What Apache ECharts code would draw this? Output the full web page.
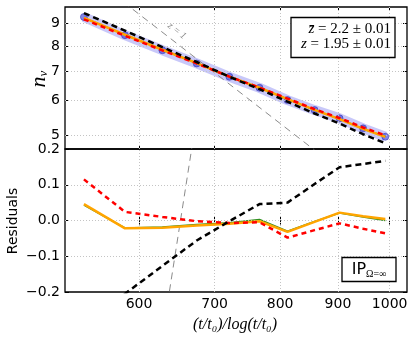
<!DOCTYPE html>
<html><head><meta charset="utf-8">
<script src="https://cdn.jsdelivr.net/npm/echarts@6/dist/echarts.min.js"></script>
<style>html,body{margin:0;padding:0;background:#fff}#c{width:415px;height:338px}</style>
</head><body><div id="c"></div>
<script>
// ---- data ----
const xVals   = [536.3, 583.1, 629.3, 674.9, 721.4, 767.0, 812.1, 858.1, 903.0, 947.3, 991.2];
const nVals   = [9.318, 8.465, 7.823, 7.297, 6.801, 6.419, 6.018, 5.710, 5.467, 5.187, 4.963];
const fitBlack  = [9.51, 8.67, 7.95, 7.353, 6.803, 6.373, 5.968, 5.608, 5.318, 5.029, 4.796];
const fitRed    = [9.203, 8.441, 7.815, 7.299, 6.808, 6.424, 6.066, 5.737, 5.475, 5.210, 4.999];
const fitGreen  = [9.275, 8.486, 7.841, 7.308, 6.807, 6.416, 6.048, 5.713, 5.446, 5.177, 4.963];
const fitOrange = [9.272, 8.487, 7.843, 7.311, 6.810, 6.421, 6.050, 5.714, 5.445, 5.175, 4.959];
const resBlack  = [-0.29, -0.205, -0.127, -0.056, -0.002, 0.046, 0.050, 0.102, 0.149, 0.158, 0.167];
const resRed    = [0.115, 0.024, 0.010, -0.002, -0.007, -0.005, -0.048, -0.027, -0.008, -0.023, -0.036];
const resGreen  = [0.043, -0.021, -0.018, -0.011, -0.006, 0.003, -0.030, -0.003, 0.021, 0.010, 0.000];
const resOrange = [0.046, -0.022, -0.020, -0.014, -0.009, -0.002, -0.032, -0.004, 0.022, 0.012, 0.004];
const zOneTopX = [570, 870];
const zOneTopY = [10.48, 4.50];
const zOneResX = [636, 670];
const zOneResY = [-0.231, 0.227];
const xTicks = [600, 700, 800, 900, 1000];
const nTicks = [5, 6, 7, 8, 9];
const resTicks = [-0.1, 0.0, 0.1];
const boxVals = [' = 2.2 ± 0.01', ' = 1.95 ± 0.01'];

const pairs = (xs, ys) => xs.map((x, i) => [x, ys[i]]);
const chart = echarts.init(document.getElementById('c'));
const GL = 65, GW = 342;
const grids = [
  {left: GL, top: 7, width: GW, height: 142},
  {left: GL, top: 149, width: GW, height: 143}
].map(g => Object.assign(g, {show: true, borderColor: '#000', borderWidth: 1.3, backgroundColor: 'transparent', containLabel: false}));

const gridStyle = {color: '#c4c4c4', width: 1, type: [1, 2]};
const tick = (vals) => ({show: true, inside: true, length: 4, customValues: vals, lineStyle: {color: '#000', width: 1}});
const lbl = {fontFamily: 'DejaVu Sans', fontSize: 14, color: '#000'};
const xBase = {type: 'log', min: 516, max: 1036, axisLine: {show: false}, splitLine: {show: false}};
const xAxis = [
  Object.assign({}, xBase, {gridIndex: 0, position: 'bottom', axisTick: tick(xTicks), axisLabel: {show: false, customValues: xTicks}}),
  Object.assign({}, xBase, {gridIndex: 1, position: 'bottom', axisTick: tick(xTicks),
    axisLabel: Object.assign({show: true, customValues: xTicks, margin: 5, formatter: v => String(Math.round(v))}, lbl)}),
  Object.assign({}, xBase, {gridIndex: 0, position: 'top', axisTick: tick(xTicks), axisLabel: {show: false, customValues: xTicks}}),
  Object.assign({}, xBase, {gridIndex: 1, position: 'top', axisTick: tick(xTicks), axisLabel: {show: false, customValues: xTicks}})
];
const yTopBase = {type: 'log', min: 4.653, max: 9.82, gridIndex: 0, axisLine: {show: false}, splitLine: {show: false}};
const yResBase = {type: 'value', min: -0.2, max: 0.2, interval: 0.1, gridIndex: 1, axisLine: {show: false}, splitLine: {show: false}};
const resFmt = v => (v < -1e-9 ? '\u2212' : '') + Math.abs(v).toFixed(1);
const yAxis = [
  Object.assign({}, yTopBase, {position: 'left', axisTick: tick(nTicks),
    axisLabel: Object.assign({show: true, customValues: nTicks, margin: 5, formatter: v => String(Math.round(v))}, lbl)}),
  Object.assign({}, yResBase, {position: 'left', axisTick: {show: true, inside: true, length: 4, lineStyle: {color: '#000'}},
    axisLabel: Object.assign({show: true, margin: 5, formatter: resFmt, showMinLabel: true, showMaxLabel: true}, lbl)}),
  Object.assign({}, yTopBase, {position: 'right', axisTick: tick(nTicks), axisLabel: {show: false, customValues: nTicks}}),
  Object.assign({}, yResBase, {position: 'right', axisTick: {show: true, inside: true, length: 4, lineStyle: {color: '#000'}}, axisLabel: {show: false}})
];

function line(name, gi, data, color, width, type, z) {
  return {name, type: 'line', xAxisIndex: gi, yAxisIndex: gi, data, showSymbol: false, symbol: 'none',
    lineStyle: {color, width, type, cap: 'butt'}, z, animation: false, clip: true, silent: true};
}
function gridMarks(yKey, yVals) {
  return {silent: true, symbol: ['none', 'none'], label: {show: false}, lineStyle: gridStyle, animation: false,
    emphasis: {disabled: true},
    data: xTicks.map(v => ({xAxis: v})).concat(yVals.map(v => ({[yKey]: v})))};
}
const band = line('band', 0, pairs(xVals, nVals), 'rgba(125,125,240,0.42)', 10, 'solid', 1);
band.markLine = gridMarks('yAxis', nTicks);
const z1r = line('z1r', 1, pairs(zOneResX, zOneResY), '#8a8a8a', 1, [7, 5], 3);
z1r.markLine = gridMarks('yAxis', resTicks);
const series = [
  band,
  {name: 'pts', type: 'scatter', xAxisIndex: 0, yAxisIndex: 0, data: pairs(xVals, nVals), symbolSize: 7,
    itemStyle: {color: 'rgba(60,60,215,0.78)', borderColor: 'rgba(40,40,170,0.8)', borderWidth: 0.8}, z: 2, animation: false, silent: true},
  line('z1', 0, pairs(zOneTopX, zOneTopY), '#8a8a8a', 1, [7, 5], 3),
  line('green', 0, pairs(xVals, fitGreen), '#2f8f1f', 1.5, 'solid', 4),
  line('orange', 0, pairs(xVals, fitOrange), '#ffa500', 2.5, 'solid', 5),
  line('red', 0, pairs(xVals, fitRed), '#ff0000', 2.5, [5, 4], 6),
  line('black', 0, pairs(xVals, fitBlack), '#000', 2.5, [6, 4], 7),
  z1r,
  line('greenr', 1, pairs(xVals, resGreen), '#2f8f1f', 1.5, 'solid', 4),
  line('oranger', 1, pairs(xVals, resOrange), '#ffa500', 2.5, 'solid', 5),
  line('redr', 1, pairs(xVals, resRed), '#ff0000', 2.5, [5, 4], 6),
  line('blackr', 1, pairs(xVals, resBlack), '#000', 2.5, [6, 4], 7)
];

const serif = 'Liberation Serif, DejaVu Serif, serif';
const boxRich = {i: {fontFamily: serif, fontStyle: 'italic', fontSize: 15, fill: '#000'}, r: {fontFamily: serif, fontSize: 15, fill: '#000'}};
const graphic = [
  {type: 'text', x: 39, y: 79, rotation: Math.PI / 2, style: {text: '{n|n}{s|v}', x: 0, y: 0, align: 'center', verticalAlign: 'middle',
    rich: {n: {fontFamily: serif, fontStyle: 'italic', fontSize: 22, fill: '#000'}, s: {fontFamily: serif, fontStyle: 'italic', fontSize: 13, fill: '#000', padding: [10, 0, 0, 0]}}}},
  {type: 'text', x: 13, y: 221, rotation: Math.PI / 2, style: {text: 'Residuals', align: 'center', verticalAlign: 'middle', fontFamily: 'DejaVu Sans', fontSize: 14, fill: '#000'}},
  {type: 'text', x: 235, y: 325, style: {text: '(t/t\u2080)/log(t/t\u2080)', align: 'center', verticalAlign: 'middle', fontFamily: serif, fontStyle: 'italic', fontSize: 16, fill: '#000'}},
  {type: 'text', x: 177, y: 31, rotation: -0.66, style: {text: 'z = 1', align: 'center', verticalAlign: 'middle', fontFamily: serif, fontStyle: 'italic', fontSize: 10, fill: '#8a8a8a'}},
  {type: 'rect', shape: {x: 291, y: 17.5, width: 104, height: 40}, style: {fill: '#fff', stroke: '#000', lineWidth: 1.3}, z: 100},
  {type: 'text', x: 391, y: 29, z: 101, style: {text: '{i|z\u0304}{r|' + boxVals[0] + '}', align: 'right', verticalAlign: 'middle', rich: boxRich}},
  {type: 'text', x: 391, y: 44, z: 101, style: {text: '{i|z}{r|' + boxVals[1] + '}', align: 'right', verticalAlign: 'middle', rich: boxRich}},
  {type: 'rect', shape: {x: 342, y: 257.5, width: 54, height: 24}, style: {fill: '#fff', stroke: '#000', lineWidth: 1.3}, z: 100},
  {type: 'text', x: 369, y: 270, z: 101, style: {text: '{a|IP}{b|Ω=∞}', align: 'center', verticalAlign: 'middle',
    rich: {a: {fontFamily: 'DejaVu Sans', fontSize: 16, fill: '#000'}, b: {fontFamily: serif, fontSize: 10, fill: '#000', padding: [8, 0, 0, 0]}}}}
];

chart.setOption({animation: false, backgroundColor: '#fff', grid: grids, xAxis, yAxis, series, graphic});
</script></body></html>
